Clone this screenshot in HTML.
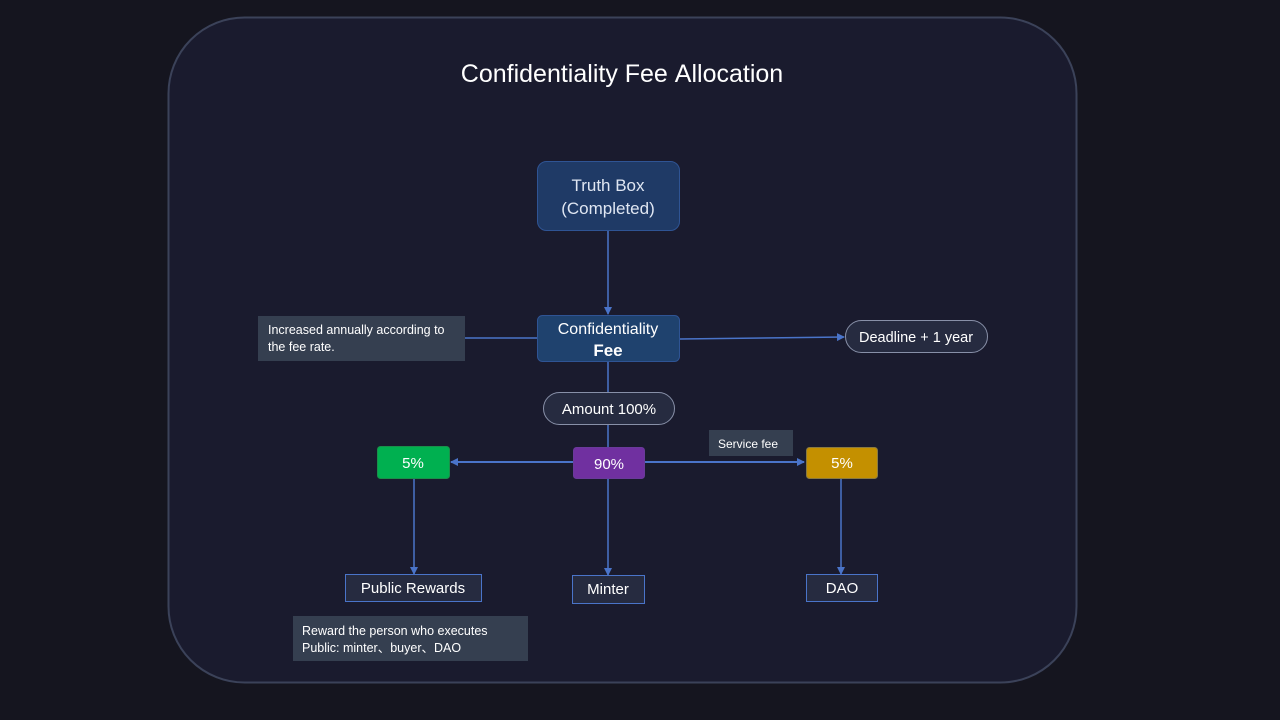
<!DOCTYPE html>
<html><head><meta charset="utf-8"><style>
html,body{margin:0;padding:0;background:#15151f;width:1280px;height:720px;overflow:hidden}
svg{display:block}
text{font-family:"Liberation Sans","Noto Sans CJK SC",sans-serif}
</style></head><body>
<svg width="1280" height="720" viewBox="0 0 1280 720" xmlns="http://www.w3.org/2000/svg">
<defs>
<marker id="a" markerWidth="8" markerHeight="8" refX="7" refY="4" orient="auto" markerUnits="userSpaceOnUse"><path d="M0,0 L8,4 L0,8 z" fill="#4a74c9"/></marker>
</defs>
<rect x="0" y="0" width="1280" height="720" fill="#15151f"/>
<rect x="168.5" y="17.5" width="908" height="665" rx="76" fill="#1a1b2e" stroke="#3b4259" stroke-width="2"/>
<text x="622" y="82" text-anchor="middle" font-size="25" fill="#fff">Confidentiality Fee <tspan font-weight="300">Allocation</tspan></text>

<g stroke="#4a74c9" stroke-width="1.5" fill="none">
<line x1="608" y1="231" x2="608" y2="314" marker-end="url(#a)"/>
<line x1="465" y1="338" x2="538" y2="338"/>
<line x1="680" y1="339" x2="844" y2="337" marker-end="url(#a)"/>
<line x1="608" y1="362" x2="608" y2="393"/>
<line x1="608" y1="425" x2="608" y2="447"/>
<line x1="573" y1="462" x2="451" y2="462" stroke-width="2" marker-end="url(#a)"/>
<line x1="645" y1="462" x2="804" y2="462" stroke-width="2" marker-end="url(#a)"/>
<line x1="414" y1="479" x2="414" y2="574" marker-end="url(#a)"/>
<line x1="608" y1="479" x2="608" y2="575" marker-end="url(#a)"/>
<line x1="841" y1="479" x2="841" y2="574" marker-end="url(#a)"/>
</g>

<rect x="537.5" y="161.5" width="142" height="69" rx="9" fill="#1f3a66" stroke="#2f5494"/>
<text x="608" y="191" text-anchor="middle" font-size="17" fill="#dfe6f2">Truth Box</text>
<text x="608" y="214" text-anchor="middle" font-size="17" fill="#dfe6f2">(Completed)</text>

<rect x="537.5" y="315.5" width="142" height="46" rx="5" fill="#1f426e" stroke="#2f5494"/>
<text x="608" y="334" text-anchor="middle" font-size="16" fill="#fff">Confidentiality</text>
<text x="608" y="356" text-anchor="middle" font-size="17" font-weight="bold" fill="#fff">Fee</text>

<rect x="258" y="316" width="207" height="45" fill="#353f50"/>
<text x="268" y="334" font-size="12.5" fill="#fff">Increased annually according to</text>
<text x="268" y="351" font-size="12.5" fill="#fff">the fee rate.</text>

<rect x="845.5" y="320.5" width="142" height="32" rx="16" fill="#262b40" stroke="#8890a8"/>
<text x="916" y="342" text-anchor="middle" font-size="14.5" fill="#fff">Deadline + 1 year</text>

<rect x="543.5" y="392.5" width="131" height="32" rx="16" fill="#262b40" stroke="#8890a8"/>
<text x="609" y="414" text-anchor="middle" font-size="15" fill="#fff">Amount 100%</text>

<rect x="377.5" y="446.5" width="72" height="32" rx="3" fill="#00b050" stroke="#1a8f4a"/>
<text x="413" y="468" text-anchor="middle" font-size="15" fill="#fff">5%</text>

<rect x="573.5" y="447.5" width="71" height="31" rx="3" fill="#7030a0" stroke="#6a3a9a"/>
<text x="609" y="469" text-anchor="middle" font-size="15" fill="#fff">90%</text>

<rect x="709" y="430" width="84" height="26" fill="#353f50"/>
<text x="718" y="448" font-size="12" fill="#fff">Service fee</text>

<rect x="806.5" y="447.5" width="71" height="31" rx="3" fill="#c49000" stroke="#8a7a40"/>
<text x="842" y="468" text-anchor="middle" font-size="15" fill="#fff">5%</text>

<rect x="345.5" y="574.5" width="136" height="27" fill="#262b40" stroke="#4a74c9"/>
<text x="413" y="593" text-anchor="middle" font-size="15" fill="#fff">Public Rewards</text>

<rect x="572.5" y="575.5" width="72" height="28" fill="#262b40" stroke="#4a74c9"/>
<text x="608" y="594" text-anchor="middle" font-size="15" fill="#fff">Minter</text>

<rect x="806.5" y="574.5" width="71" height="27" fill="#262b40" stroke="#4a74c9"/>
<text x="842" y="593" text-anchor="middle" font-size="15" fill="#fff">DAO</text>

<rect x="293" y="616" width="235" height="45" fill="#353f50"/>
<text x="302" y="635" font-size="12.5" fill="#fff">Reward the person who executes</text>
<text x="302" y="652" font-size="12.5" fill="#fff">Public: minter、buyer、DAO</text>
</svg>
</body></html>
